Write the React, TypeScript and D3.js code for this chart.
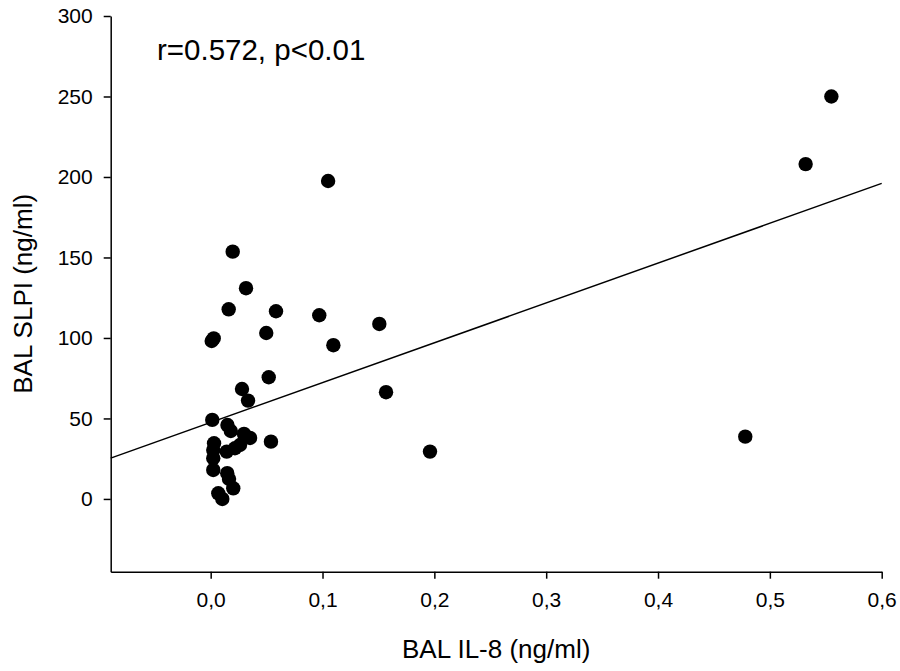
import React, { useEffect, useRef } from "react";
import * as d3 from "d3";

// BAL IL-8 (ng/ml) vs BAL SLPI (ng/ml)
const il8 = [
  0.555, 0.532, 0.105, 0.0197, 0.0316, 0.0161, 0.0584, 0.0971, 0.1508, 0.0009,
  0.0027, 0.0497, 0.1097, 0.0519, 0.028, 0.0334, 0.1568, 0.0014, 0.015, 0.018,
  0.0298, 0.0352, 0.0539, 0.003, 0.0023, 0.0023, 0.0023, 0.0143, 0.0217, 0.0262,
  0.0148, 0.0164, 0.0202, 0.0068, 0.0104, 0.1961, 0.478
];
const slpi = [
  250, 208, 197.5, 153.6, 130.9, 117.8, 116.6, 114.1, 108.7, 98.1,
  99.7, 103.1, 95.5, 75.6, 68.3, 61.1, 66.3, 49.1, 45.9, 42.2,
  40.4, 37.9, 35.6, 34.6, 30.4, 25.3, 18.0, 29.4, 31.5, 33.5,
  16.0, 12.4, 6.6, 3.5, 0, 29.4, 38.7
];

const xTicks = [0, 0.1, 0.2, 0.3, 0.4, 0.5, 0.6];
const yTicks = [0, 50, 100, 150, 200, 250, 300];

// fitted line y = a + b*x
const fit = { a: 47.5, b: 247.5 };
const annotation = "r=0.572, p<0.01";

const W = 900;
const H = 671;
const font = "'Liberation Sans', Arial, Helvetica, sans-serif";

const x = d3.scaleLinear().domain([-0.0894, 0.6]).range([110.7, 881.7]);
const y = d3.scaleLinear().domain([-45.2, 300]).range([571.7, 16]);

export default function App() {
  const xRef = useRef<SVGGElement>(null);
  const yRef = useRef<SVGGElement>(null);

  useEffect(() => {
    document.body.style.margin = "0";
    const fmt = (d: any) => d3.format(".1f")(d).replace(".", ",");

    const gx = d3.select(xRef.current!);
    gx.call(
      d3.axisBottom(x).tickValues(xTicks).tickSize(7).tickSizeOuter(0).tickPadding(13).tickFormat(fmt)
    );
    const gy = d3.select(yRef.current!);
    gy.call(
      d3.axisLeft(y).tickValues(yTicks).tickSize(7).tickSizeOuter(0).tickPadding(11)
    );

    [gx, gy].forEach((g) => {
      g.selectAll("path, line").attr("stroke", "#000").attr("stroke-width", 1.5);
      g.selectAll("text")
        .attr("fill", "#000")
        .style("font-family", font)
        .style("font-size", "21px");
    });
  }, []);

  const xd = x.domain();
  const pts = il8.map((v, i) => ({ xv: v, yv: slpi[i] }));

  return (
    <svg width={W} height={H} style={{ display: "block", background: "#fff" }}>
      <line
        x1={x(xd[0])}
        y1={y(fit.a + fit.b * xd[0])}
        x2={x(xd[1])}
        y2={y(fit.a + fit.b * xd[1])}
        stroke="#000"
        strokeWidth={1.5}
      />
      {pts.map((p, i) => (
        <circle key={i} cx={x(p.xv)} cy={y(p.yv)} r={7.2} fill="#000" />
      ))}
      <g ref={xRef} transform={`translate(0,${y.range()[0]})`} />
      <g ref={yRef} transform={`translate(${x.range()[0]},0)`} />
      <text x={157} y={60} fontFamily={font} fontSize={29.5} fill="#000">
        {annotation}
      </text>
      <text
        x={(x.range()[0] + x.range()[1]) / 2}
        y={658}
        textAnchor="middle"
        fontFamily={font}
        fontSize={26}
        fill="#000"
      >
        BAL IL-8 (ng/ml)
      </text>
      <text
        transform={`translate(32,${(y.range()[0] + y.range()[1]) / 2}) rotate(-90)`}
        textAnchor="middle"
        fontFamily={font}
        fontSize={26}
        fill="#000"
      >
        BAL SLPI (ng/ml)
      </text>
    </svg>
  );
}
